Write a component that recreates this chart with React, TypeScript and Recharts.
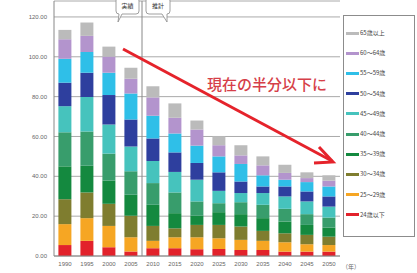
import React from 'react';
import { BarChart, Bar, XAxis, YAxis, CartesianGrid, ReferenceLine, Legend } from 'recharts';

const YEARS = ['1990', '1995', '2000', '2005', '2010', '2015', '2020', '2025', '2030', '2035', '2040', '2045', '2050'];

// values per age group, bottom of the stack first
const AGE_24_UNDER = [5.5, 7.6, 4.4, 2.2, 3.9, 3.9, 3.4, 3.5, 3.0, 3.0, 2.2, 2.2, 2.2];
const AGE_25_29 = [10.5, 11.4, 10.7, 7.2, 3.7, 5.5, 6.0, 5.4, 5.1, 4.6, 4.7, 3.7, 3.3];
const AGE_30_34 = [12.5, 12.9, 11.1, 10.8, 7.5, 4.5, 6.2, 6.7, 6.7, 5.0, 4.5, 4.7, 4.2];
const AGE_35_39 = [16.5, 13.4, 11.7, 10.5, 10.6, 7.6, 4.6, 6.4, 6.2, 6.4, 5.9, 5.0, 4.6];
const AGE_40_44 = [17.1, 17.2, 13.5, 11.8, 10.9, 10.4, 7.2, 4.5, 6.0, 6.7, 6.4, 5.4, 5.0];
const AGE_45_49 = [13.1, 17.3, 14.6, 12.5, 11.1, 10.3, 10.9, 6.2, 4.6, 5.9, 6.2, 6.4, 5.5];
const AGE_50_54 = [11.8, 12.2, 14.8, 13.5, 11.3, 9.8, 8.4, 9.3, 5.8, 3.3, 5.0, 5.0, 5.1];
const AGE_55_59 = [12.0, 10.4, 11.2, 13.1, 11.4, 9.5, 8.7, 8.0, 8.8, 5.6, 3.4, 4.7, 5.0];
const AGE_60_64 = [9.8, 8.1, 8.1, 7.4, 9.2, 7.9, 8.1, 5.6, 4.3, 5.0, 3.4, 2.0, 2.9];
const AGE_65_OVER = [4.7, 6.7, 5.0, 5.5, 5.6, 7.2, 4.5, 4.5, 5.1, 4.5, 4.1, 2.9, 2.7];

const Y_TICKS = [0, 20, 40, 60, 80, 100, 120];

const SERIES = [
  { key: 'a24', name: '24歳以下', color: '#e2222b', values: AGE_24_UNDER },
  { key: 'a25', name: '25～29歳', color: '#f6a623', values: AGE_25_29 },
  { key: 'a30', name: '30～34歳', color: '#7f7d2f', values: AGE_30_34 },
  { key: 'a35', name: '35～39歳', color: '#14893f', values: AGE_35_39 },
  { key: 'a40', name: '40～44歳', color: '#389d6c', values: AGE_40_44 },
  { key: 'a45', name: '45～49歳', color: '#46c3bd', values: AGE_45_49 },
  { key: 'a50', name: '50～54歳', color: '#2e3f9e', values: AGE_50_54 },
  { key: 'a55', name: '55～59歳', color: '#2fbfe8', values: AGE_55_59 },
  { key: 'a60', name: '60～64歳', color: '#b394cd', values: AGE_60_64 },
  { key: 'a65', name: '65歳以上', color: '#bbbbbb', values: AGE_65_OVER },
];

const data = YEARS.map((year, i) => {
  const row: Record<string, string | number> = { year };
  SERIES.forEach(s => { row[s.key] = s.values[i]; });
  return row;
});

const tickStyle = { fontSize: 6, fill: '#666', fontFamily: 'Liberation Sans' };

const renderLegend = (props: any) => {
  const items = [...(props.payload || [])].reverse();
  return (
    <div style={{ width: 72, height: 222, border: '1px solid #8c8c8c', boxSizing: 'border-box', paddingTop: 7, background: '#fff' }}>
      {items.map((entry: any) => (
        <div key={entry.value} style={{ display: 'flex', alignItems: 'center', height: 20.2, paddingLeft: 2 }}>
          <span style={{ display: 'inline-block', width: 13, height: 3, background: entry.color, marginRight: 1 }} />
          <span style={{ fontSize: 6, color: '#444', fontFamily: 'Noto Sans CJK JP', lineHeight: 1 }}>{entry.value}</span>
        </div>
      ))}
    </div>
  );
};

export default function App() {
  return (
    <div style={{ position: 'absolute', left: 0, top: 0, width: 417, height: 273, background: '#fff', overflow: 'hidden' }}>
      <BarChart width={417} height={273} data={data} margin={{ top: 1, right: 77, left: 0, bottom: 0 }} barCategoryGap="20%">
        <CartesianGrid vertical={false} stroke="#aaa" />
        <XAxis
          dataKey="year"
          interval={0}
          height={17}
          tickLine={false}
          tickSize={0}
          tickMargin={6}
          axisLine={{ stroke: '#888' }}
          tick={tickStyle}
        />
        <YAxis
          domain={[0, 128]}
          ticks={Y_TICKS}
          allowDataOverflow
          width={54}
          tickLine={false}
          tickSize={0}
          tickMargin={7}
          axisLine={{ stroke: '#888' }}
          tick={tickStyle}
          tickFormatter={(v: number) => v.toFixed(2)}
        />
        <ReferenceLine x="2005" position="end" stroke="#888" strokeWidth={1} />
        <Legend
          layout="horizontal"
          verticalAlign="middle"
          align="center"
          content={renderLegend}
          wrapperStyle={{ left: 343, top: 15, width: 72, height: 222 }}
        />
        {SERIES.map(s => (
          <Bar key={s.key} dataKey={s.key} name={s.name} stackId="age" fill={s.color} isAnimationActive={false} />
        ))}
      </BarChart>
      <svg width={417} height={273} style={{ position: 'absolute', left: 0, top: 0, pointerEvents: 'none' }}>
        {/* callouts */}
        <path d="M117 -2 H137 Q139 -2 139 1 V11 Q139 14 136 14 H122 L118 22 L119 14 Q116 14 116 11 V1 Q116 -2 117 -2 Z" fill="#fff" stroke="#888" strokeWidth={0.8} />
        <text x={127.5} y={8} fontSize={6} textAnchor="middle" fill="#333" fontFamily="Noto Sans CJK JP">実績</text>
        <path d="M147 -2 H168 Q170 -2 170 1 V11 Q170 14 167 14 L167 22 L162 14 H149 Q146 14 146 11 V1 Q146 -2 147 -2 Z" fill="#fff" stroke="#888" strokeWidth={0.8} />
        <text x={158} y={8} fontSize={6} textAnchor="middle" fill="#333" fontFamily="Noto Sans CJK JP">推計</text>
        {/* trend arrow */}
        <line x1={123} y1={49} x2={332} y2={161} stroke="#e5232b" strokeWidth={3} />
        <polyline points="319,147 333,162 314,163" fill="none" stroke="#e5232b" strokeWidth={3} strokeLinejoin="miter" />
        <text x={207} y={90} fontSize={15} fill="#d63f49" fontFamily="Noto Sans CJK JP" fontWeight={500}>現在の半分以下に</text>
        <text x={342} y={269} fontSize={6} fill="#666" fontFamily="Noto Sans CJK JP">（年）</text>
      </svg>
    </div>
  );
}
